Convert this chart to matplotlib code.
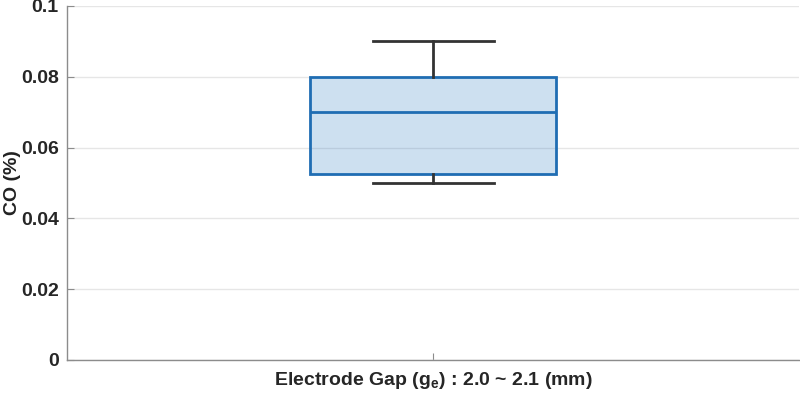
import matplotlib
matplotlib.use("Agg")
import matplotlib.pyplot as plt

# box plot summary
group_label = "Electrode Gap (g$_\\mathregular{e}$) : 2.0 ~ 2.1 (mm)"
whisker_low = 0.05
q1 = 0.0525
median = 0.07
q3 = 0.08
whisker_high = 0.09

yticks = [0, 0.02, 0.04, 0.06, 0.08, 0.1]
ytick_labels = ["0", "0.02", "0.04", "0.06", "0.08", "0.1"]

plt.rcParams['font.family'] = ['Liberation Sans', 'DejaVu Sans']
plt.rcParams['font.weight'] = 'bold'
plt.rcParams['mathtext.default'] = 'bf'

fig = plt.figure(figsize=(8, 3.93), dpi=100)
ax = fig.add_axes([0.084, 0.084, 0.915, 0.901])

stats = [dict(whislo=whisker_low, q1=q1, med=median, q3=q3, whishi=whisker_high, fliers=[])]
blue = "#1f6db3"
dark = "#333333"
ax.bxp(stats, positions=[1], widths=0.336, showfliers=False, patch_artist=True,
       boxprops=dict(facecolor=(0.12, 0.45, 0.75, 0.22), edgecolor=blue, linewidth=2.0),
       medianprops=dict(color=blue, linewidth=2.0),
       whiskerprops=dict(color=dark, linewidth=2.0),
       capprops=dict(color=dark, linewidth=2.0), capwidths=0.165, zorder=3)

ax.set_xlim(0.5, 1.5)
ax.set_ylim(0, 0.1)
ax.set_yticks(yticks)
ax.set_yticklabels(ytick_labels)
ax.set_xticks([1])
ax.set_xticklabels([group_label])
ax.set_ylabel("CO (%)", fontsize=14, fontweight='bold', color="#222222", labelpad=0)

ax.grid(axis='y', color="#e6e6e6", linewidth=1.0, zorder=0)
ax.set_axisbelow(True)
for s in ['top', 'right']:
    ax.spines[s].set_visible(False)
for s in ['left', 'bottom']:
    ax.spines[s].set_color("#8c8c8c")
    ax.spines[s].set_linewidth(1.0)
ax.tick_params(axis='y', direction='in', length=5, color="#8c8c8c", labelsize=14, labelcolor="#262626", pad=6)
ax.tick_params(axis='x', direction='in', length=5, color="#8c8c8c", labelsize=14, labelcolor="#262626", pad=7)

fig.savefig("out.png", dpi=100)
